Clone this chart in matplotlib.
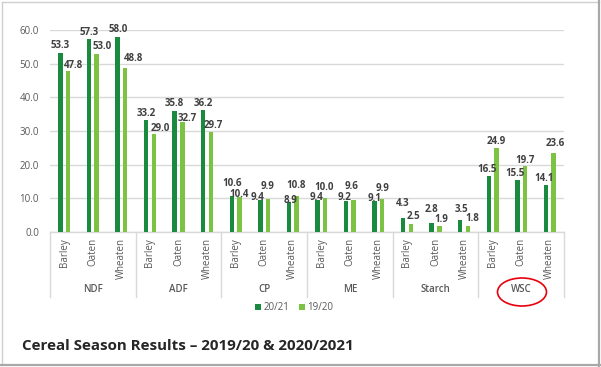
import matplotlib
matplotlib.use("Agg")
import matplotlib.pyplot as plt
from matplotlib.patches import Ellipse
from matplotlib.lines import Line2D
from matplotlib.transforms import blended_transform_factory
import numpy as np

# ---- data ----
groups = ["NDF", "ADF", "CP", "ME", "Starch", "WSC"]
cereals = ["Barley", "Oaten", "Wheaten"]
series_names = ["20/21", "19/20"]
values_2021 = [53.3, 57.3, 58.0, 33.2, 35.8, 36.2, 10.6, 9.4, 8.9,
               9.4, 9.2, 9.1, 4.3, 2.8, 3.5, 16.5, 15.5, 14.1]
values_1920 = [47.8, 53.0, 48.8, 29.0, 32.7, 29.7, 10.4, 9.9, 10.8,
               10.0, 9.6, 9.9, 2.5, 1.9, 1.8, 24.9, 19.7, 23.6]
yticks = [0, 10, 20, 30, 40, 50, 60]
title = "Cereal Season Results \u2013 2019/20 & 2020/2021"

# ---- label nudges (pixels) ----
dark_dx = [0, 0, 1, 0, 0, 0, 0, -2.5, 2, -1, -1, 0, 0, 0, 1, -1.5, -2.5, -2]
dark_dy = [0, 0, 0, 0, 0.5, 0, 5.5, -4.3, -5, -4.3, -3.7, -4.6, 7, 6.5, 4, -0.5, -0.5, -1]
light_dx = [5, 5.7, 8.7, 6.6, 5, 2.7, 0, 0, 0, -1, -2, 0, 2.5, 1.5, 4.5, 0, 0, 2]
light_dy = [-1, 0, 2.7, -1, -3.4, 0, -4.5, 5, 3, 3.6, 6, 3.4, 0, -1, 0, 0, -1.5, 2]

DARK = "#1A8A3E"
LIGHT = "#7CC243"
GRID = "#D9D9D9"
TXT = "#595959"
LBL = "#404040"
FONT = "Open Sans"

W, H = 601, 367
fig = plt.figure(figsize=(W / 100, H / 100), dpi=100)
fig.patch.set_facecolor("white")

L, R, T, B = 50, 564, 30, 232
ax = fig.add_axes([L / W, 1 - B / H, (R - L) / W, (B - T) / H])
ax.set_facecolor("white")

n = len(values_2021)
x = np.arange(n)
bw = 0.155
off = 0.135
ax.bar(x - off, values_2021, bw, color=DARK, zorder=3, label=series_names[0])
ax.bar(x + off, values_1920, bw, color=LIGHT, zorder=3, label=series_names[1])

ax.set_xlim(-0.5, n - 0.5)
ax.set_ylim(0, 60)
ax.set_yticks(yticks)
ax.set_yticklabels([f"{v:.1f}" for v in yticks], fontsize=7, color=TXT, family=FONT)
ax.tick_params(axis="y", length=0, pad=8)
ax.set_xticks([])
for s in ["top", "right", "left"]:
    ax.spines[s].set_visible(False)
ax.spines["bottom"].set_color(GRID)
ax.spines["bottom"].set_linewidth(1.0)
ax.grid(axis="y", color=GRID, linewidth=1.0, zorder=0)

PX = 0.72  # points per pixel at 100 dpi
for i in range(n):
    ax.annotate(f"{values_2021[i]:.1f}", (x[i] - off, values_2021[i]),
                xytext=(dark_dx[i] * PX, (7 + dark_dy[i]) * PX), textcoords="offset points",
                ha="center", va="center", fontsize=7, fontweight="bold", color=LBL,
                family=FONT, zorder=5, annotation_clip=False)
    ax.annotate(f"{values_1920[i]:.1f}", (x[i] + off, values_1920[i]),
                xytext=(light_dx[i] * PX, (7 + light_dy[i]) * PX), textcoords="offset points",
                ha="center", va="center", fontsize=7, fontweight="bold", color=LBL,
                family=FONT, zorder=5, annotation_clip=False)

# category labels
trans = blended_transform_factory(ax.transData, ax.transAxes)
axh = B - T
for i in range(n):
    ax.text(x[i], -6 / axh, cereals[i % 3], rotation=90, ha="center", va="top",
            fontsize=7, color=TXT, family=FONT, transform=trans, clip_on=False)
for g, name in enumerate(groups):
    ax.text(3 * g + 1, -(290 - B) / axh, name, ha="center", va="center",
            fontsize=7, color=TXT, family=FONT, fontweight="semibold",
            transform=trans, clip_on=False)
for k in range(len(groups) + 1):
    xb = 3 * k - 0.5
    ax.add_line(Line2D([xb, xb], [0, -(297 - B) / axh], transform=trans,
                       color=GRID, linewidth=1.0, clip_on=False))

# legend
leg = fig.legend(loc="center", bbox_to_anchor=(294 / W, 1 - 308 / H), ncol=2,
                 frameon=False, handlelength=0.6, handleheight=0.6,
                 handletextpad=0.25, columnspacing=1.0,
                 prop={"family": FONT, "size": 7})
for t in leg.get_texts():
    t.set_color(TXT)

# title
fig.text(22 / W, 1 - 346 / H, title, ha="left", va="center", fontsize=10.9,
         fontweight="bold", color="#262626", family=FONT)

# red ellipse around WSC
fig.add_artist(Ellipse((522 / W, 1 - 292 / H), 49 / W, 28 / H, transform=fig.transFigure,
                       fill=False, edgecolor="#E8000B", linewidth=1.2))

# frame border
fig.add_artist(Line2D([1.5 / W, 1.5 / W], [1 - 365 / H, 1 - 1.5 / H], transform=fig.transFigure,
                      color="#CFCFCF", linewidth=1.0))
fig.add_artist(Line2D([1.5 / W, 598.5 / W], [1 - 1.5 / H, 1 - 1.5 / H], transform=fig.transFigure,
                      color="#CFCFCF", linewidth=1.0))
fig.add_artist(Line2D([599 / W, 599 / W], [1 - 365.5 / H, 1 - 1 / H], transform=fig.transFigure,
                      color="#A8A8A8", linewidth=1.6))
fig.add_artist(Line2D([1 / W, 599.5 / W], [1 - 365 / H, 1 - 365 / H], transform=fig.transFigure,
                      color="#A8A8A8", linewidth=1.6))

fig.savefig("out.png", dpi=100, facecolor="white")
